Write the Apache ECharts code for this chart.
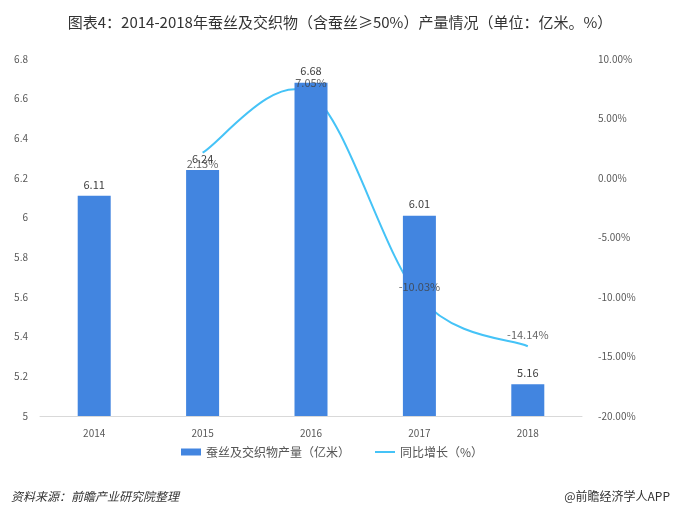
<!DOCTYPE html>
<html><head><meta charset="utf-8">
<script src="https://cdn.jsdelivr.net/npm/echarts@6/dist/echarts.min.js"></script>
<style>html,body{margin:0;padding:0;background:#fff}#c{width:680px;height:513px}</style>
</head><body><div id="c"></div>
<script>
const categories = ['2014','2015','2016','2017','2018'];
const output = [6.11, 6.24, 6.68, 6.01, 5.16];
const growth = [null, 2.13, 7.05, -10.03, -14.14];
const growthLabelPos = ['top','bottom','top','top','top'];

const LINE_COLOR = '#45c3f7';
const growthPoints = growth.map((v, i) => [i, v]).filter(p => p[1] != null);

function renderCurve(params, api) {
  if (params.dataIndex !== 0) return null;
  const pts = growthPoints.map(p => api.coord(p));
  const n = pts.length;
  let d = 'M' + pts[0][0] + ' ' + pts[0][1];
  for (let i = 0; i < n - 1; i++) {
    const p0 = pts[Math.max(i - 1, 0)], p1 = pts[i], p2 = pts[i + 1], p3 = pts[Math.min(i + 2, n - 1)];
    const c1 = [p1[0] + (p2[0] - p0[0]) / 6, p1[1] + (p2[1] - p0[1]) / 6];
    const c2 = [p2[0] - (p3[0] - p1[0]) / 6, p2[1] - (p3[1] - p1[1]) / 6];
    d += ' C' + c1[0] + ' ' + c1[1] + ' ' + c2[0] + ' ' + c2[1] + ' ' + p2[0] + ' ' + p2[1];
  }
  return {
    type: 'path',
    shape: {pathData: d},
    style: {fill: null, stroke: LINE_COLOR, lineWidth: 2}
  };
}

const chart = echarts.init(document.getElementById('c'));
chart.setOption({
  animation: false,
  backgroundColor: '#fff',
  textStyle: {fontFamily: '"Noto Sans CJK SC", "Noto Sans", sans-serif'},
  title: [{
    text: '图表4：2014-2018年蚕丝及交织物（含蚕丝≥50%）产量情况（单位：亿米。%）',
    left: 'center', top: 10,
    textStyle: {fontSize: 15, fontWeight: 'normal', color: '#333'}
  },{
    text: '资料来源：前瞻产业研究院整理',
    left: 6, top: 485,
    textStyle: {fontSize: 12, fontWeight: 'normal', fontStyle: 'italic', color: '#333'}
  },{
    text: '@前瞻经济学人APP',
    right: 5, top: 485,
    textStyle: {fontSize: 12, fontWeight: 'normal', color: '#333'}
  }],
  legend: {
    bottom: 50, left: 176, itemGap: 25,
    itemWidth: 20, itemHeight: 7,
    textStyle: {fontSize: 12, color: '#555'},
    data: [
      {name: '蚕丝及交织物产量（亿米）', icon: 'rect'},
      {name: '同比增长（%）', icon: 'path://M0,0 H20 V2 H0 Z', itemStyle: {color: LINE_COLOR}}
    ]
  },
  grid: {left: 40, right: 98, top: 59, bottom: 97},
  xAxis: {
    type: 'category', data: categories,
    axisLine: {onZero: false, lineStyle: {color: '#d9d9d9'}},
    axisTick: {show: false},
    axisLabel: {color: '#595959', fontSize: 10, margin: 12}
  },
  yAxis: [{
    type: 'value', min: 5, max: 6.8, interval: 0.2,
    splitLine: {show: false}, axisLine: {show: false}, axisTick: {show: false},
    axisLabel: {color: '#595959', fontSize: 10, margin: 12,
      formatter: v => String(parseFloat(v.toFixed(1)))}
  },{
    type: 'value', min: -20, max: 10, interval: 5,
    splitLine: {show: false}, axisLine: {show: false}, axisTick: {show: false},
    axisLabel: {color: '#595959', fontSize: 10, margin: 16,
      formatter: v => v.toFixed(2) + '%'}
  }],
  series: [{
    name: '蚕丝及交织物产量（亿米）', type: 'bar', data: output,
    barWidth: 33,
    itemStyle: {color: '#4285e0'},
    label: {show: true, position: 'top', color: '#404040', fontSize: 11, distance: 6}
  },{
    name: '同比增长（%）', type: 'custom', yAxisIndex: 1,
    data: growthPoints,
    renderItem: renderCurve,
    itemStyle: {color: LINE_COLOR},
    clip: false, silent: true
  },{
    name: '同比增长标签', type: 'scatter', yAxisIndex: 1,
    data: growth.map((v, i) => v == null ? null : ({value: [i, v], label: {position: growthLabelPos[i]}})),
    symbolSize: 1,
    itemStyle: {color: 'rgba(0,0,0,0)'},
    label: {show: true, color: '#404040', fontSize: 11, distance: 5,
      formatter: p => p.value[1].toFixed(2) + '%'},
    silent: true
  }]
});
</script></body></html>
